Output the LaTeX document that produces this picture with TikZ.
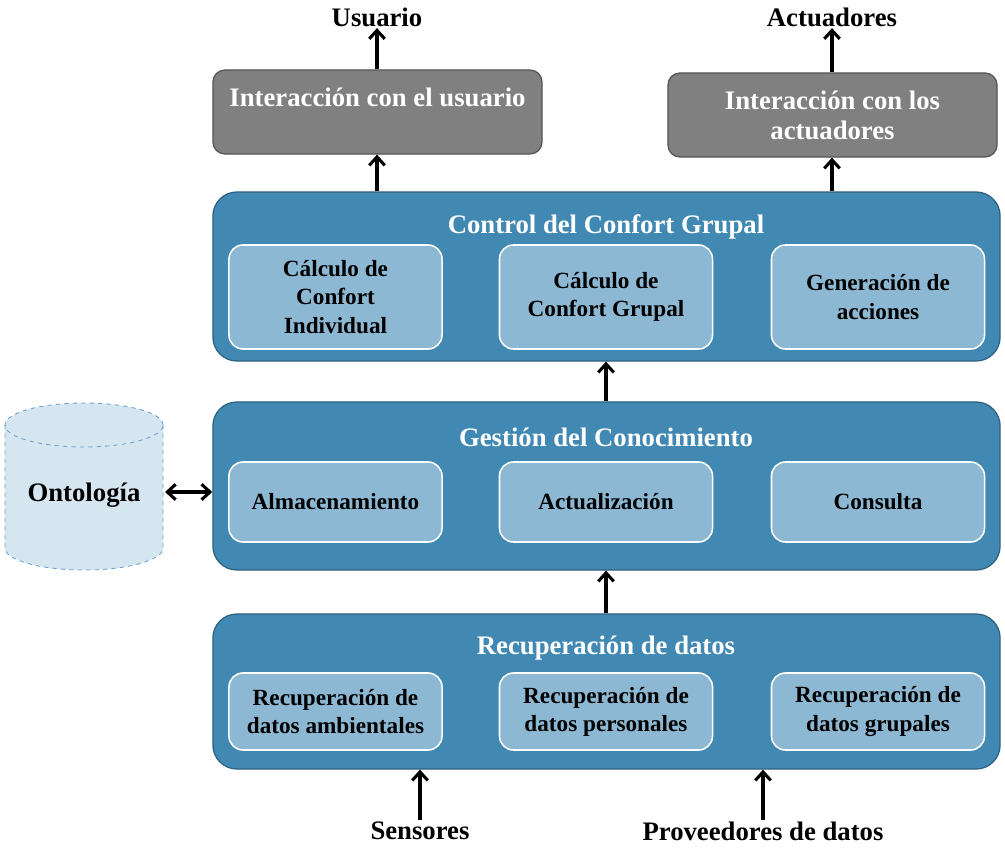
\documentclass[tikz,border=0pt]{standalone}
\usepackage{fontspec}
\setmainfont{Liberation Serif}
\usetikzlibrary{arrows.meta}
\definecolor{bloque}{RGB}{65,137,179}
\definecolor{bordebloque}{RGB}{46,98,130}
\definecolor{interior}{RGB}{140,184,211}
\definecolor{gris}{RGB}{128,128,128}
\definecolor{bordegris}{RGB}{85,85,85}
\definecolor{cilindro}{RGB}{214,230,240}
\definecolor{bordecil}{RGB}{105,160,205}

\begin{document}
\begin{tikzpicture}[x=0.025cm, y=-0.025cm, >={Straight Barb[length=6pt,width=11pt]},
    bloque/.style={draw=bordebloque, fill=bloque, line width=0.9pt, rounded corners=0.6cm, minimum width=19.675cm},
    caja/.style={draw=white, fill=interior, line width=1.1pt, rounded corners=0.35cm, minimum width=5.325cm, align=center, font=\bfseries\fontsize{16.5}{20}\selectfont},
    titulo/.style={text=white, font=\bfseries\fontsize{19}{22}\selectfont},
    cajagris/.style={draw=bordegris, fill=gris, line width=0.9pt, rounded corners=0.3cm, minimum width=8.225cm, minimum height=2.1cm, text=white, align=center, font=\bfseries\fontsize{19}{21.5}\selectfont},
    etiqueta/.style={font=\bfseries\fontsize{19}{22}\selectfont, inner sep=1pt},
    flecha/.style={->, line width=2.2pt}]
    \useasboundingbox (0,0) rectangle (1005,848);

    % bloques principales
    \node[bloque, minimum height=4.225cm] (ctrl) at (606.5,276.5) {};
    \node[bloque, minimum height=4.2cm] (gest) at (606.5,486) {};
    \node[bloque, minimum height=3.875cm] (recu) at (606.5,691.5) {};

    \node[titulo] (tctrl) at (606,227) {Control del Confort Grupal};
    \node[titulo] (tgest) at (606,437) {Gestión del Conocimiento};
    \node[titulo] (trecu) at (606,648) {Recuperación de datos};

    \node[caja, minimum height=2.6cm] (ci) at (335.5,297) {Cálculo de\\Confort\\Individual};
    \node[caja, minimum height=2.6cm] (cg) at (606,297) {Cálculo de\\Confort Grupal};
    \node[caja, minimum height=2.6cm] (ga) at (878,297) {Generación de\\acciones};

    \node[caja, minimum height=2cm] (alm) at (335.5,502) {Almacenamiento};
    \node[caja, minimum height=2cm] (act) at (606,502) {Actualización};
    \node[caja, minimum height=2cm] (con) at (878,502) {Consulta};

    \node[caja, minimum height=1.925cm] (ra) at (335.5,711.5) {Recuperación de\\datos ambientales};
    \node[caja, minimum height=1.925cm] (rp) at (606,711.5) {Recuperación de\\datos personales};
    \node[caja, minimum height=1.925cm] (rg) at (878,711.5) {Recuperación de\\datos grupales};

    % interaccion
    \node[cajagris] (iusr) at (377.5,112) {Interacción con el usuario\\\mbox{}};
    \node[cajagris] (iact) at (832.5,115) {Interacción con los\\actuadores};

    \node[etiqueta] (usr) at (377,17) {Usuario};
    \node[etiqueta] (actu) at (832,17) {Actuadores};
    \node[etiqueta] (sens) at (420,831) {Sensores};
    \node[etiqueta] (prov) at (763,831) {Proveedores de datos};

    % ontologia
    \fill[cilindro] (5,425) -- (5,548) arc[start angle=180, end angle=360, x radius=1.975cm, y radius=0.55cm]
        -- (163,425) arc[start angle=0, end angle=180, x radius=1.975cm, y radius=0.55cm] -- cycle;
    \draw[bordecil, dashed, line width=0.6pt] (5,425) -- (5,548)
        arc[start angle=180, end angle=360, x radius=1.975cm, y radius=0.55cm] -- (163,425);
    \draw[bordecil, dashed, line width=0.6pt] (84,425) ellipse[x radius=1.975cm, y radius=0.55cm];
    \node[etiqueta] (onto) at (84,495) {Ontología};
    \coordinate (ontoE) at (165,492);

    % flechas
    \draw[flecha] (usr.south |- ctrl.north) -- (usr.south |- iusr.south);
    \draw[flecha] (iusr.north -| usr.south) -- (usr.south);
    \draw[flecha] (actu.south |- ctrl.north) -- (actu.south |- iact.south);
    \draw[flecha] (iact.north -| actu.south) -- (actu.south);
    \draw[flecha] (gest.north -| cg.south) -- (cg.south |- ctrl.south);
    \draw[flecha] (recu.north -| cg.south) -- (cg.south |- gest.south);
    \draw[flecha] (sens.north) -- (sens.north |- recu.south);
    \draw[flecha] (prov.north) -- (prov.north |- recu.south);
    \draw[flecha, <->] (ontoE) -- (ontoE -| gest.west);
\end{tikzpicture}
\end{document}
